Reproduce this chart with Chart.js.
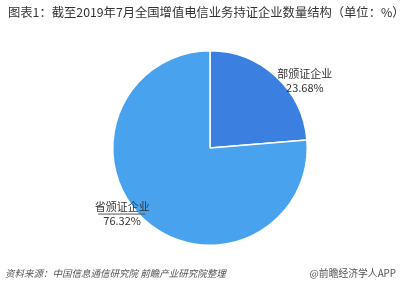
<!DOCTYPE html>
<html>
<head>
<meta charset="utf-8">
<script src="https://cdn.jsdelivr.net/npm/chart.js@4"></script>
<style>
  html, body { margin: 0; padding: 0; background: #fff; }
  #wrap { position: relative; width: 400px; height: 288px; overflow: hidden; font-family: "Noto Sans CJK SC", "Noto Sans", sans-serif; }
  #chart { position: absolute; left: 0; top: 0; }
  .title { position: absolute; left: 8px; top: 3px; font-size: 12.3px; color: #333; white-space: nowrap; }
  .source { position: absolute; left: 5px; top: 266px; font-size: 9.5px; color: #555; font-style: italic; white-space: nowrap; }
  .brand { position: absolute; right: 4px; top: 266px; font-size: 9.8px; color: #555; white-space: nowrap; }
</style>
</head>
<body>
<div id="wrap">
  <canvas id="chart" width="400" height="288"></canvas>
  <div class="title">图表1：截至2019年7月全国增值电信业务持证企业数量结构（单位：%）</div>
  <div class="source">资料来源：中国信息通信研究院 前瞻产业研究院整理</div>
  <div class="brand">@前瞻经济学人APP</div>
</div>
<script>
// données
const categories = ['部颁证企业', '省颁证企业'];
const shares = [23.68, 76.32];
const colors = ['#3b80e0', '#48a2ee'];

// étiquettes des secteurs, placées à partir de la géométrie des arcs
const sliceLabels = {
  id: 'sliceLabels',
  afterDatasetsDraw(chart) {
    const ctx = chart.ctx;
    const arcs = chart.getDatasetMeta(0).data;
    ctx.save();
    ctx.font = '11px "Noto Sans CJK SC", sans-serif';
    ctx.fillStyle = '#333';
    ctx.textAlign = 'center';
    ctx.textBaseline = 'middle';
    arcs.forEach((arc, i) => {
      const p = arc.getProps(['x', 'y', 'startAngle', 'endAngle', 'outerRadius'], true);
      const mid = (p.startAngle + p.endAngle) / 2;
      const ex = p.x + Math.cos(mid) * p.outerRadius;
      const ey = p.y + Math.sin(mid) * p.outerRadius;
      const right = Math.cos(mid) >= 0;
      const cx = right ? ex + 29 : ex - 22;
      const y1 = right ? ey - 3 : ey - 13;
      ctx.fillText(categories[i], cx, y1);
      ctx.fillText(shares[i].toFixed(2) + '%', cx, y1 + 14);
      if (!right) {
        ctx.strokeStyle = '#555';
        ctx.lineWidth = 1;
        ctx.beginPath();
        ctx.moveTo(cx - 24, y1 + 7.5);
        ctx.lineTo(ex + 1, y1 + 7.5);
        ctx.stroke();
      }
    });
    ctx.restore();
  }
};

new Chart(document.getElementById('chart'), {
  type: 'pie',
  data: {
    labels: categories,
    datasets: [{
      data: shares,
      backgroundColor: colors,
      borderColor: '#fff',
      borderWidth: 1.5
    }]
  },
  options: {
    responsive: false,
    animation: false,
    layout: { padding: { top: 50, bottom: 42, left: 20, right: 0 } },
    plugins: {
      legend: { display: false },
      tooltip: { enabled: false }
    }
  },
  plugins: [sliceLabels]
});
</script>
</body>
</html>
